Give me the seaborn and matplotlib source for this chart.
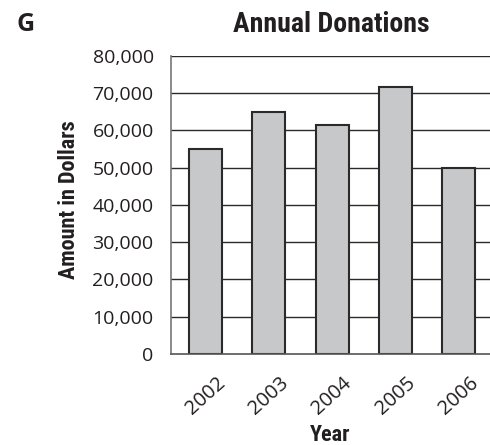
import matplotlib
matplotlib.use("Agg")
import matplotlib.pyplot as plt
import seaborn as sns
import pandas as pd
from matplotlib.ticker import FuncFormatter

years = ["2002", "2003", "2004", "2005", "2006"]
donations = [55000, 65000, 61500, 71500, 50000]
yticks = [0, 10000, 20000, 30000, 40000, 50000, 60000, 70000, 80000]

df = pd.DataFrame({"Year": years, "Amount": donations})

sns.set_theme(style="white")
plt.rcParams['font.family'] = ['Open Sans', 'DejaVu Sans']

TXT = "#231f20"
fig = plt.figure(figsize=(4.9, 4.45), dpi=100)
ax = fig.add_axes([0.349, 0.2045, 0.651, 0.6705])

for y in yticks[1:]:
    ax.axhline(y, color="#2a2a2a", lw=1.0, zorder=0)

sns.barplot(data=df, x="Year", y="Amount", color="#c7c8ca", edgecolor="#2a2a2a",
            linewidth=1.5, width=0.52, saturation=1, ax=ax, zorder=2)

ax.set_xlim(-0.55, 4.5)
ax.set_ylim(0, 80000)
ax.set_yticks(yticks)
ax.yaxis.set_major_formatter(FuncFormatter(lambda v, p: f"{int(v):,}"))

for s in ["top", "right"]:
    ax.spines[s].set_visible(False)
ax.spines["left"].set_color("#777777")
ax.spines["left"].set_linewidth(1.2)
ax.spines["bottom"].set_color("#555555")
ax.spines["bottom"].set_linewidth(1.2)

ax.tick_params(axis="y", length=0, pad=12.5, labelsize=14, labelcolor=TXT)
ax.tick_params(axis="x", length=0, pad=14, labelsize=14.5, labelcolor=TXT)
for lab in ax.get_xticklabels():
    lab.set_rotation(42)
    lab.set_ha("center")

cond = dict(family=["Roboto Condensed", "DejaVu Sans"], weight="bold")
ax.set_xlabel("Year", fontsize=16, color=TXT, **cond)
ax.set_ylabel("Amount in Dollars", fontsize=16, color=TXT, **cond)
ax.xaxis.set_label_coords(0.5, -0.27)
ax.yaxis.set_label_coords(-0.32, 0.516)
ax.xaxis.label.set_va("center")
ax.yaxis.label.set_va("center")

fig.text(0.677, 0.946, "Annual Donations", ha="center", va="center", fontsize=20,
         color=TXT, **cond)
fig.text(0.033, 0.945, "G", ha="left", va="center", fontsize=18, weight="bold",
         color=TXT, family=["Open Sans", "DejaVu Sans"])

fig.savefig("out.png", dpi=100)
